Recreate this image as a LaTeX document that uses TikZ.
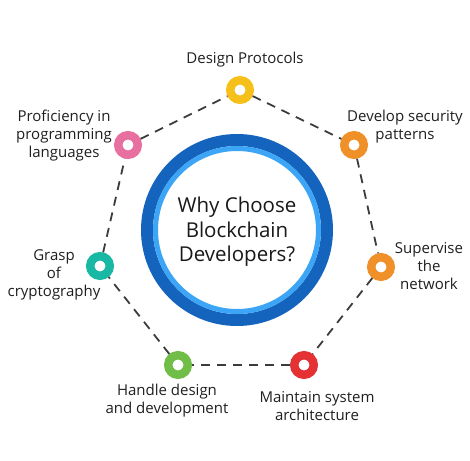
\documentclass[tikz,border=0pt]{standalone}
\usepackage{fontspec}
\setmainfont{Open Sans}
\definecolor{bc_yellow}{RGB}{246, 192, 26}
\definecolor{bc_orange}{RGB}{240, 144, 40}
\definecolor{bc_pink}{RGB}{232, 112, 160}
\definecolor{bc_teal}{RGB}{24, 184, 164}
\definecolor{bc_green}{RGB}{112, 190, 72}
\definecolor{bc_red}{RGB}{228, 50, 52}
\definecolor{bc_darkblue}{RGB}{20, 100, 190}
\definecolor{bc_lightblue}{RGB}{60, 165, 245}
\definecolor{bc_line}{RGB}{60, 60, 60}
\tikzstyle{dot}=[circle,fill=white,line width=8.5pt,
  minimum size=19.5pt,inner sep=0pt]
\tikzstyle{lbl}=[align=center,inner sep=0pt,text=black!88,
  font=\fontsize{15}{18}\selectfont]
\tikzstyle{link}=[draw=bc_line,line width=1.8pt,dash pattern=on 9pt off 7pt]
\tikzstyle{ring}=[circle,draw=bc_darkblue,line width=12pt,
  minimum size=180pt,inner sep=0pt]
\tikzstyle{inring}=[circle,draw=bc_lightblue,line width=5pt,fill=white,
  minimum size=163pt,inner sep=0pt]
\tikzstyle{title}=[align=center,inner sep=0pt,text=black!90,
  font=\fontsize{20.5}{24.5}\selectfont]

\begin{document}
\begin{tikzpicture}[x=1pt, y=-1pt]
            \useasboundingbox (0, 0) rectangle (470, 460);
            \node [style=ring] (c0) at (237, 230) {};
            \node [style=inring] (c1) at (237, 230) {};
            \node [style=title] (c2) at (237, 232) {Why Choose\\Blockchain\\Developers?};
            \node [style=dot, draw=bc_yellow] (1) at (240, 90) {};
            \node [style=dot, draw=bc_orange] (2) at (354, 145) {};
            \node [style=dot, draw=bc_orange] (3) at (381, 267) {};
            \node [style=dot, draw=bc_red] (4) at (304, 365) {};
            \node [style=dot, draw=bc_green] (5) at (178, 365) {};
            \node [style=dot, draw=bc_teal] (6) at (100, 266) {};
            \node [style=dot, draw=bc_pink] (7) at (128, 145) {};
            \node [style=lbl] (l1) at (245, 60) {Design Protocols};
            \node [style=lbl] (l2) at (405, 127) {Develop security\\patterns};
            \node [style=lbl] (l3) at (429, 266) {Supervise\\the\\network};
            \node [style=lbl] (l4) at (317, 406) {Maintain system\\architecture};
            \node [style=lbl] (l5) at (167, 401) {Handle design\\and development};
            \node [style=lbl] (l6) at (54, 275) {Grasp\\of\\cryptography};
            \node [style=lbl] (l7) at (64, 136) {Proficiency in\\programming\\languages};
            \draw [style=link] (1) to (2);
            \draw [style=link] (2) to (3);
            \draw [style=link] (3) to (4);
            \draw [style=link] (4) to (5);
            \draw [style=link] (5) to (6);
            \draw [style=link] (6) to (7);
            \draw [style=link] (7) to (1);
    \end{tikzpicture}
\end{document}
